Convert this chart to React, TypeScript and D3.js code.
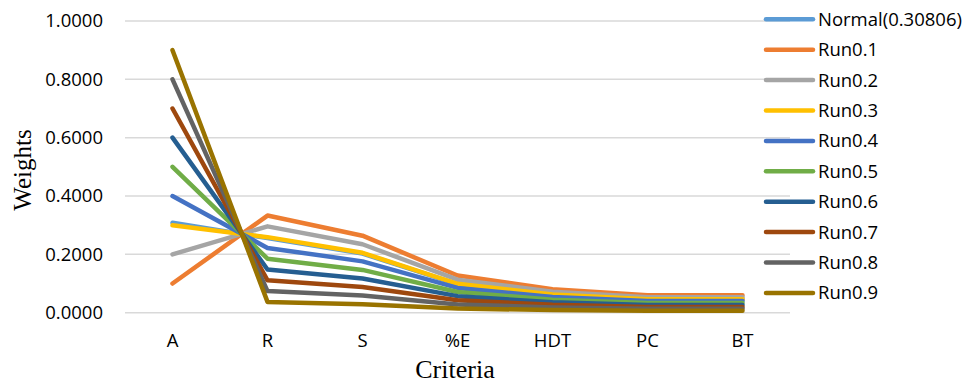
import React from "react";
import * as d3 from "d3";

const categories = ["A", "R", "S", "%E", "HDT", "PC", "BT"];
const seriesNames = ["Normal(0.30806)", "Run0.1", "Run0.2", "Run0.3", "Run0.4", "Run0.5", "Run0.6", "Run0.7", "Run0.8", "Run0.9"];
const seriesColors = ["#5B9BD5", "#ED7D31", "#A5A5A5", "#FFC000", "#4472C4", "#70AD47", "#255E91", "#9E480E", "#636363", "#997300"];

const normal = [0.30806, 0.256, 0.203, 0.098, 0.062, 0.046, 0.046];
const run01 = [0.1, 0.333, 0.264, 0.1275, 0.0806, 0.0598, 0.0598];
const run02 = [0.2, 0.296, 0.2347, 0.1133, 0.0717, 0.0532, 0.0532];
const run03 = [0.3, 0.259, 0.2054, 0.0991, 0.0627, 0.0465, 0.0465];
const run04 = [0.4, 0.222, 0.176, 0.085, 0.0538, 0.0399, 0.0399];
const run05 = [0.5, 0.185, 0.1467, 0.0708, 0.0448, 0.0332, 0.0332];
const run06 = [0.6, 0.148, 0.1174, 0.0567, 0.0358, 0.0266, 0.0266];
const run07 = [0.7, 0.111, 0.088, 0.0425, 0.0269, 0.0199, 0.0199];
const run08 = [0.8, 0.074, 0.0587, 0.0283, 0.0179, 0.0133, 0.0133];
const run09 = [0.9, 0.037, 0.0293, 0.0142, 0.009, 0.0066, 0.0066];
const seriesValues = [normal, run01, run02, run03, run04, run05, run06, run07, run08, run09];

const yTicks = [0, 0.2, 0.4, 0.6, 0.8, 1.0];

const W = 967;
const H = 385;
const plotLeft = 125;
const plotRight = 790;
const plotTop = 21;
const plotBottom = 312.7;

export default function App() {
  const x = d3.scalePoint<string>().domain(categories).range([plotLeft, plotRight]).padding(0.5);
  const y = d3.scaleLinear().domain([0, 1]).range([plotBottom, plotTop]);
  const line = d3
    .line<number>()
    .x((_, i) => x(categories[i]) as number)
    .y((d) => y(d));

  const tickFont = "'Open Sans', 'Noto Sans', sans-serif";
  const serif = "'Liberation Serif', 'DejaVu Serif', serif";

  return (
    <svg width={W} height={H} style={{ position: "absolute", left: 0, top: 0, background: "#fff" }}>
      {yTicks.map((t) => (
        <g key={t}>
          <line x1={plotLeft} x2={plotRight} y1={y(t)} y2={y(t)} stroke="#D9D9D9" strokeWidth={1.5} />
          <text x={103} y={y(t)} dy="0.35em" textAnchor="end" fontFamily={tickFont} fontSize={18.5} fill="#000">
            {t.toFixed(4)}
          </text>
        </g>
      ))}
      {categories.map((c) => (
        <text key={c} x={x(c)} y={347} textAnchor="middle" fontFamily={tickFont} fontSize={18.5} fill="#000">
          {c}
        </text>
      ))}
      {seriesValues.map((vals, i) => (
        <path
          key={seriesNames[i]}
          d={line(vals) || ""}
          fill="none"
          stroke={seriesColors[i]}
          strokeWidth={4.5}
          strokeLinecap="round"
          strokeLinejoin="round"
        />
      ))}
      <text x={455} y={378} textAnchor="middle" fontFamily={serif} fontSize={26} fill="#000">
        Criteria
      </text>
      <text
        transform={`translate(31,170) rotate(-90)`}
        textAnchor="middle"
        fontFamily={serif}
        fontSize={25}
        fill="#000"
      >
        Weights
      </text>
      {seriesNames.map((name, i) => {
        const ly = 19.3 + i * 30.4;
        return (
          <g key={name}>
            <line x1={766} x2={813} y1={ly} y2={ly} stroke={seriesColors[i]} strokeWidth={4.5} strokeLinecap="round" />
            <text x={818} y={ly} dy="0.35em" fontFamily={tickFont} fontSize={18.5} fill="#000">
              {name}
            </text>
          </g>
        );
      })}
    </svg>
  );
}
